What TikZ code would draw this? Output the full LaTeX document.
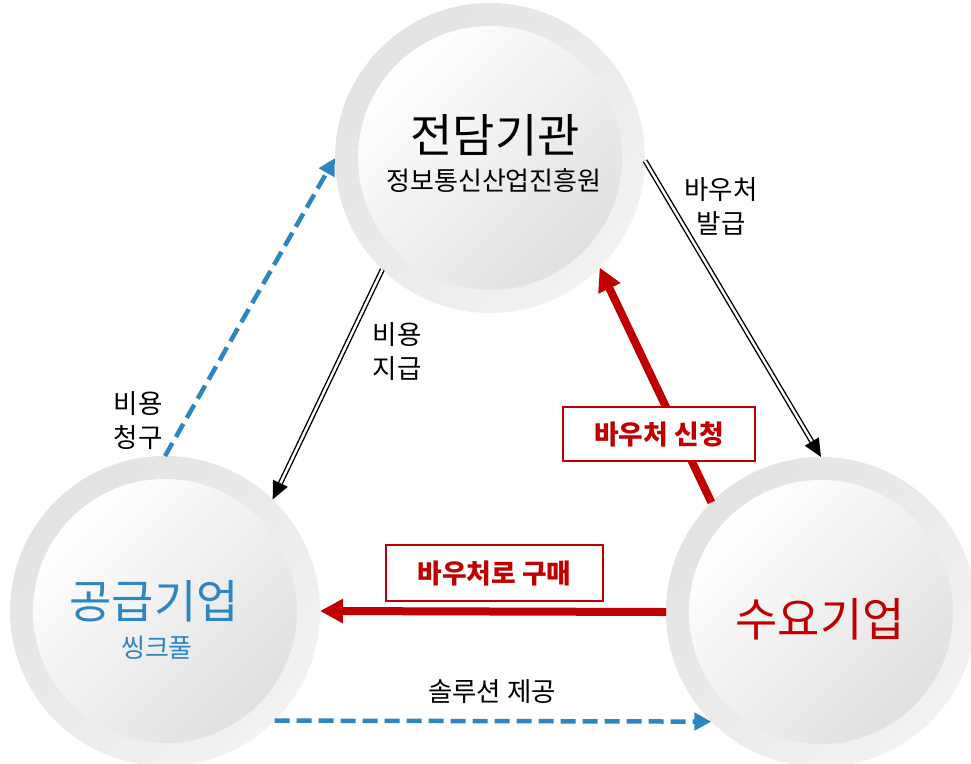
\documentclass[tikz,border=0pt]{standalone}
\usepackage{fontspec}
\setmainfont{Noto Sans CJK KR}
\usetikzlibrary{arrows.meta}
\definecolor{bluec}{HTML}{2E86C1}
\definecolor{redc}{HTML}{C00000}
\begin{document}
\begin{tikzpicture}[x=1pt,y=-1pt,
  ring/.style={circle, minimum size=310pt, inner sep=0pt, outer sep=0pt, draw=none,
    top color=black!11, bottom color=black!5, shading angle=45},
  core/.style={circle, minimum size=264pt, inner sep=0pt, outer sep=0pt, draw=none,
    top color=white, bottom color=black!12, shading angle=45},
  bigtxt/.style={font=\fontsize{46}{52}\selectfont, inner sep=0pt},
  subtxt/.style={font=\fontsize{26}{30}\selectfont, inner sep=0pt},
  lbl/.style={font=\fontsize{26.5}{34}\selectfont, align=center, inner sep=0pt},
  dbl/.style={draw=black, line width=1.4pt, double=white, double distance=2.4pt,
    -{Triangle[length=18pt,width=16pt]}},
  redarr/.style={draw=redc, line width=8pt, -{Triangle[length=23pt,width=23pt]}},
  bluedash/.style={draw=bluec, line width=4.5pt, dash pattern=on 15pt off 7pt,
    -{Triangle[length=17pt,width=17pt]}},
  redbox/.style={draw=redc, line width=1.5pt, fill=white, text=redc, inner sep=0pt,
    font=\fontsize{26.8}{30}\selectfont\bfseries}
]
\fill[white] (0,0) rectangle (971,763);
\useasboundingbox (0,0) rectangle (971,763);

% circles
\node[ring] (ta) at (490,158) {};
\node[core] (tc) at (490,158) {};
\node[ring] (sa) at (165,611) {};
\node[core] (sc) at (165,611) {};
\node[ring] (da) at (821,612) {};
\node[core] (dc) at (821,612) {};

% circle texts
\node[bigtxt] (t1) at (495,135) {전담기관};
\node[subtxt] (t2) at (494,181) {정보통신산업진흥원};
\node[bigtxt, text=bluec] (s1) at (154,601) {공급기업};
\node[subtxt, text=bluec] (s2) at (157,648) {씽크풀};
\node[bigtxt, text=redc] (d1) at (820,619) {수요기업};

% connectors
\draw[dbl] (ta.-1) -- (da.90);
\draw[dbl] (ta.-134) -- (sa.46);
\draw[bluedash] (sa.90) -- (ta.180);
\draw[bluedash] (sa.-45) -- (da.-135);
\draw[redarr] (da.135) -- (ta.-45);
\draw[redarr] (da.180) -- (sa.0);

% labels
\node[lbl] (l1) at (721,206) {바우처\\발급};
\node[lbl] (l2) at (397,352) {비용\\지급};
\node[lbl] (l3) at (138,421) {비용\\청구};
\node[lbl] (l4) at (492,692) {솔루션 제공};
\node[redbox, minimum width=192pt, minimum height=54pt] (b1) at (659,434) {바우처 신청};
\node[redbox, minimum width=217pt, minimum height=56pt] (b2) at (494.5,573) {바우처로 구매};
\end{tikzpicture}
\end{document}
